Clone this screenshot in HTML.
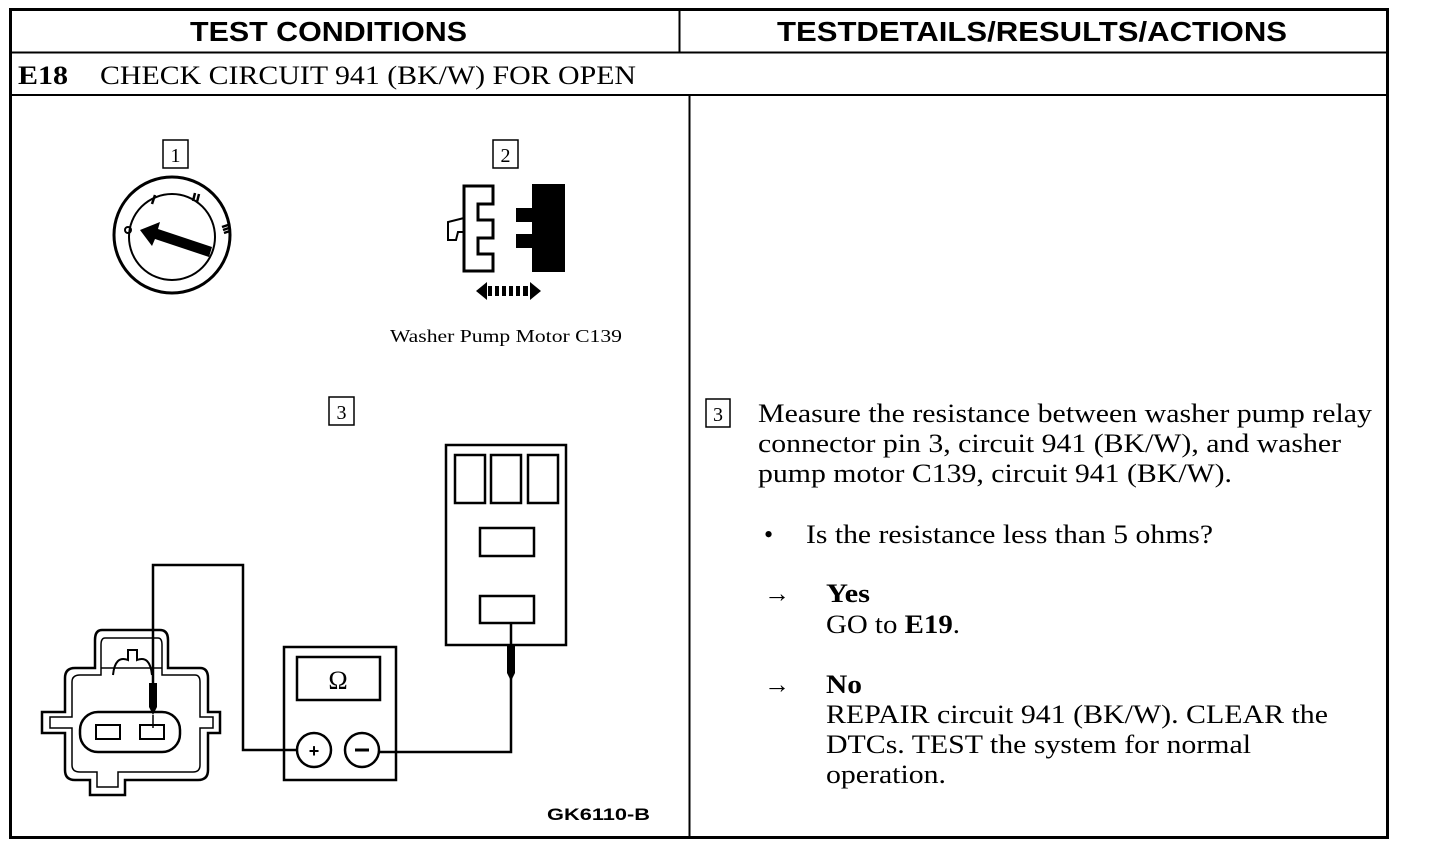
<!DOCTYPE html>
<html><head><meta charset="utf-8"><style>
html,body{margin:0;padding:0;background:#fff;}
svg{display:block;}
.h{font-family:"Liberation Sans",sans-serif;font-weight:bold;font-size:28px;}
.s{font-family:"Liberation Serif",serif;font-size:26px;}
</style></head><body>
<svg width="1440" height="856" viewBox="0 0 1440 856" xmlns="http://www.w3.org/2000/svg">
<g fill="none" stroke="#000">
<rect x="10.5" y="9.5" width="1377" height="828" stroke-width="3"/>
<line x1="10" y1="52.5" x2="1388" y2="52.5" stroke-width="2"/>
<line x1="10" y1="95" x2="1388" y2="95" stroke-width="2"/>
<line x1="679.5" y1="9" x2="679.5" y2="53" stroke-width="2"/>
<line x1="689.5" y1="95" x2="689.5" y2="838" stroke-width="2"/>
</g>
<text class="h" x="190" y="41" textLength="277" lengthAdjust="spacingAndGlyphs">TEST CONDITIONS</text>
<text class="h" x="777" y="41" textLength="510" lengthAdjust="spacingAndGlyphs">TESTDETAILS/RESULTS/ACTIONS</text>
<text class="s" x="18" y="84" font-weight="bold" textLength="50" lengthAdjust="spacingAndGlyphs">E18</text>
<text class="s" x="100" y="84" textLength="536" lengthAdjust="spacingAndGlyphs">CHECK CIRCUIT 941 (BK/W) FOR OPEN</text>

<g fill="none" stroke="#000" stroke-width="1.5">
<rect x="163" y="140" width="25" height="28"/>
<rect x="493" y="140" width="25" height="28"/>
<rect x="329" y="397" width="25" height="28"/>
<rect x="706" y="399" width="24" height="28"/>
</g>
<g font-family="Liberation Serif,serif" font-size="20">
<text x="175.5" y="162" text-anchor="middle">1</text>
<text x="505.5" y="162" text-anchor="middle">2</text>
<text x="341.5" y="419" text-anchor="middle">3</text>
<text x="718" y="421" text-anchor="middle">3</text>
</g>

<g fill="none" stroke="#000">
<circle cx="172" cy="235" r="58" stroke-width="3"/>
<circle cx="172" cy="237" r="43" stroke-width="2"/>
</g>
<polygon points="140,230 160,222 158,229 212,247 209,257 155,239 152,246" fill="#000"/>
<g stroke="#000" stroke-width="2.5">
<line x1="155" y1="195" x2="152" y2="204"/>
<line x1="195" y1="193" x2="193" y2="201"/><line x1="199" y1="194" x2="197" y2="202"/>
<line x1="222" y1="227" x2="228" y2="225"/><line x1="223" y1="230" x2="229" y2="228"/><line x1="224" y1="233" x2="230" y2="231"/>
</g>
<circle cx="128" cy="230" r="3" fill="none" stroke="#000" stroke-width="2"/>

<path d="M464,186 H493 V204 H478 V220 H493 V238 H478 V254 H493 V271 H464 Z" fill="none" stroke="#000" stroke-width="3"/>
<path d="M464,218 L448,222 V240 H456 L458,232 L464,232" fill="none" stroke="#000" stroke-width="2"/>
<path d="M532,184 H565 V272 H532 V248 H516 V234 H532 V222 H516 V208 H532 Z" fill="#000"/>
<polygon points="476,291 487,282 487,300" fill="#000"/>
<polygon points="541,291 530,282 530,300" fill="#000"/>
<g fill="#000"><rect x="488" y="286" width="4" height="10"/><rect x="495" y="286" width="4" height="10"/><rect x="502" y="286" width="4" height="10"/><rect x="509" y="286" width="4" height="10"/><rect x="516" y="286" width="4" height="10"/><rect x="523" y="286" width="5" height="10"/></g>
<text x="390" y="342" font-family="Liberation Serif,serif" font-size="18" textLength="232" lengthAdjust="spacingAndGlyphs">Washer Pump Motor C139</text>

<g fill="none" stroke="#000" stroke-width="2.5">
<rect x="446" y="445" width="120" height="200"/>
<rect x="455" y="455" width="30" height="48"/>
<rect x="491" y="455" width="30" height="48"/>
<rect x="528" y="455" width="30" height="48"/>
<rect x="480" y="528" width="54" height="28"/>
<rect x="480" y="596" width="54" height="27"/>
</g>
<g fill="none" stroke="#000" stroke-width="2.5">
<polyline points="511,623 511,752 378,752"/>
<polyline points="297,750 243,750 243,565 153,565 153,690"/>
</g>
<path d="M507,645 h8 v28 l-4,8 l-4,-8 Z" fill="#000"/>
<path d="M149,683 h8 v24 l-4,8 l-4,-8 Z" fill="#000"/>
<line x1="153" y1="715" x2="153" y2="728" stroke="#000" stroke-width="1.5"/>

<g fill="none" stroke="#000" stroke-width="2.5">
<rect x="284" y="647" width="112" height="133"/>
<rect x="297" y="657" width="83" height="43"/>
<circle cx="314" cy="750" r="17"/>
<circle cx="362" cy="750" r="17"/>
</g>
<text x="338" y="689" text-anchor="middle" font-family="Liberation Serif,serif" font-size="26">Ω</text>
<text x="314" y="757" text-anchor="middle" font-family="Liberation Sans,sans-serif" font-weight="bold" font-size="18">+</text>
<line x1="355" y1="750" x2="369" y2="750" stroke="#000" stroke-width="3"/>

<g fill="none" stroke="#000" stroke-width="2.5">
<path d="M102,630 H160 Q168,630 168,640 V668 H200 Q208,668 208,678 V712 H220 V733 H208 V770 Q208,780 198,780 H125 V795 H90 V780 H75 Q65,780 65,770 V733 H42 V712 H65 V678 Q65,668 75,668 H95 V640 Q95,630 102,630 Z"/>
<path d="M105,638 H158 Q162,638 162,645 V675 H195 Q200,675 200,682 V717 H213 V728 H200 V765 Q200,772 193,772 H118 V787 H97 V772 H80 Q72,772 72,765 V728 H50 V717 H72 V682 Q72,675 80,675 H101 V645 Q101,638 105,638 Z" stroke-width="1.5"/>
<rect x="80" y="712" width="100" height="40" rx="18"/>
<rect x="96" y="725" width="24" height="14" stroke-width="2"/>
<rect x="140" y="725" width="24" height="14" stroke-width="2"/>
<path d="M113,675 Q115,655 128,660 V650 H137 V660 Q150,655 152,675" stroke-width="2"/>
<line x1="101" y1="668" x2="162" y2="668" stroke-width="1.5"/>
</g>
<text x="547" y="820" font-family="Liberation Sans,sans-serif" font-weight="bold" font-size="17" textLength="103" lengthAdjust="spacingAndGlyphs">GK6110-B</text>

<g font-family="Liberation Serif,serif" font-size="26">
<text x="758" y="422" textLength="614" lengthAdjust="spacingAndGlyphs">Measure the resistance between washer pump relay</text>
<text x="758" y="452" textLength="583" lengthAdjust="spacingAndGlyphs">connector pin 3, circuit 941 (BK/W), and washer</text>
<text x="758" y="482" textLength="474" lengthAdjust="spacingAndGlyphs">pump motor C139, circuit 941 (BK/W).</text>
<text x="764" y="543">•</text>
<text x="806" y="543" textLength="407" lengthAdjust="spacingAndGlyphs">Is the resistance less than 5 ohms?</text>
<text x="764" y="602">→</text>
<text x="826" y="602" font-weight="bold" textLength="44" lengthAdjust="spacingAndGlyphs">Yes</text>
<text x="826" y="633" textLength="134" lengthAdjust="spacingAndGlyphs">GO to <tspan font-weight="bold">E19</tspan>.</text>
<text x="764" y="693">→</text>
<text x="826" y="693" font-weight="bold" textLength="36" lengthAdjust="spacingAndGlyphs">No</text>
<text x="826" y="723" textLength="502" lengthAdjust="spacingAndGlyphs">REPAIR circuit 941 (BK/W). CLEAR the</text>
<text x="826" y="753" textLength="425" lengthAdjust="spacingAndGlyphs">DTCs. TEST the system for normal</text>
<text x="826" y="783" textLength="120" lengthAdjust="spacingAndGlyphs">operation.</text>
</g>
</svg>
</body></html>
